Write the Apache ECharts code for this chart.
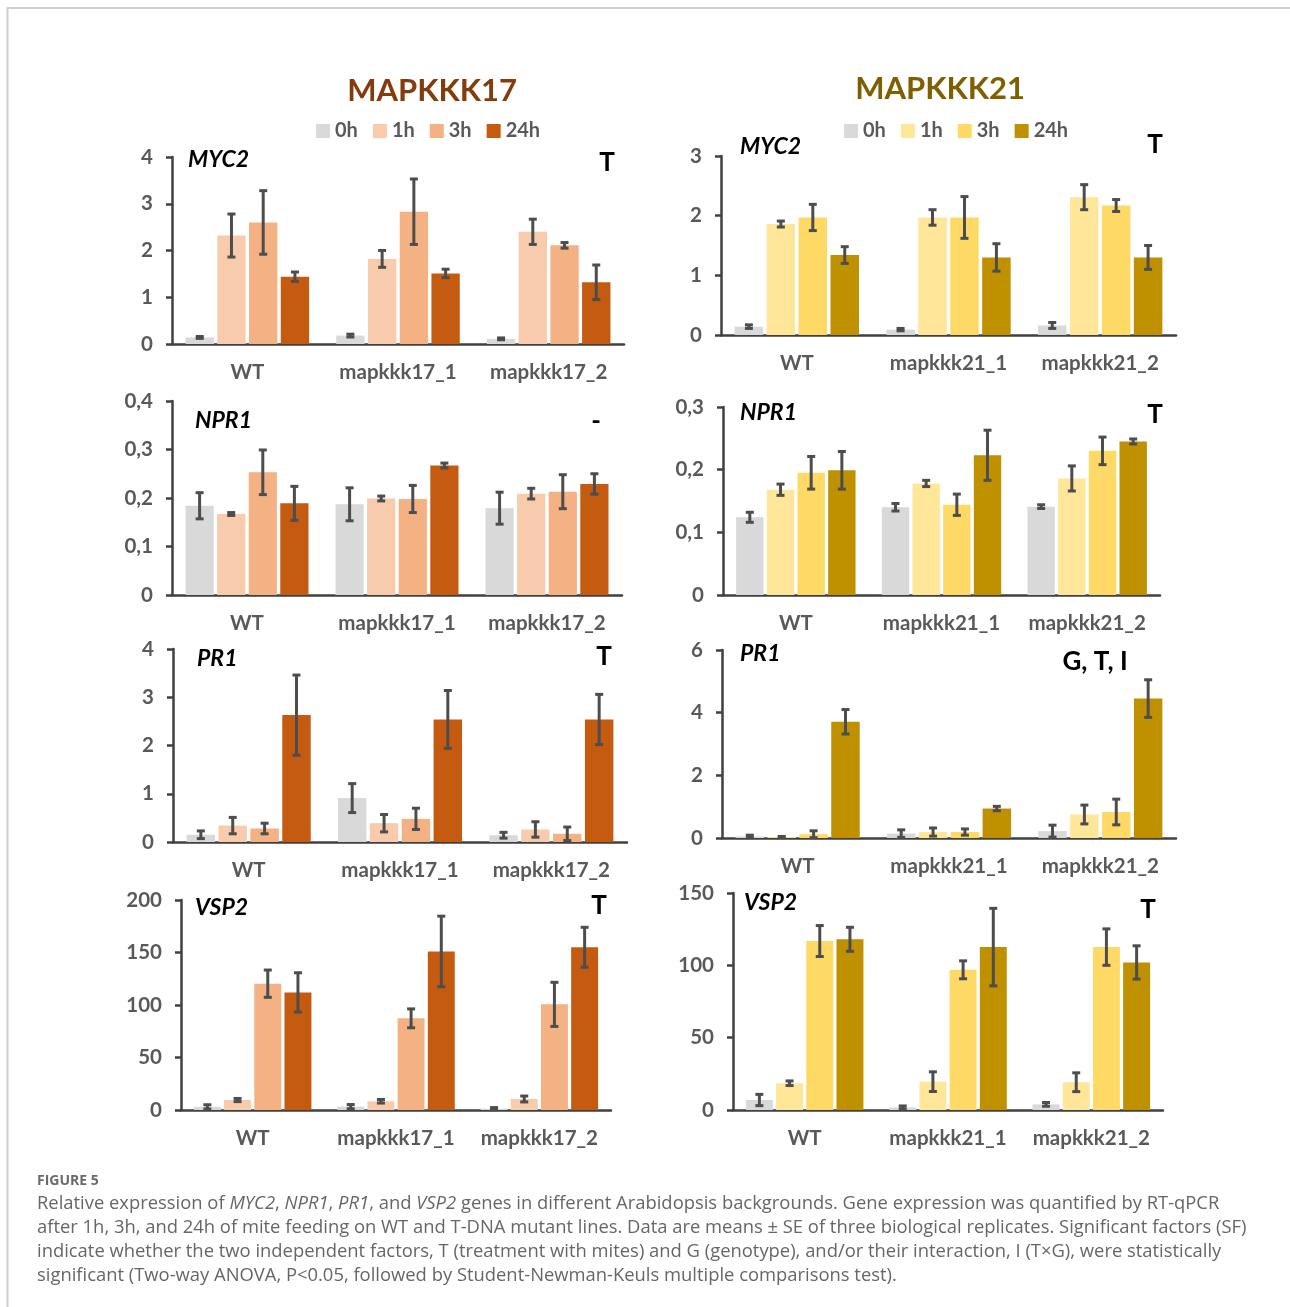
<!DOCTYPE html>
<html>
<head>
<meta charset="utf-8">
<script src="https://cdn.jsdelivr.net/npm/echarts@6/dist/echarts.min.js"></script>
<style>
  html, body { margin: 0; padding: 0; background: #fff; }
  #chart { width: 1290px; height: 1307px; }
</style>
</head>
<body>
<div id="chart"></div>
<script>
// Genotypes on the x axis of each column
const genotypesK17 = ['WT', 'mapkkk17_1', 'mapkkk17_2'];
const genotypesK21 = ['WT', 'mapkkk21_1', 'mapkkk21_2'];
// Time after mite infestation (one bar series per time point)
const timePoints = ['0h', '1h', '3h', '24h'];

// Relative expression: rows = time points, columns = genotypes
const myc2K17Mean = [[0.14, 0.18, 0.11], [2.32, 1.82, 2.40], [2.60, 2.83, 2.11], [1.44, 1.51, 1.32]];
const myc2K17Se   = [[0.02, 0.03, 0.02], [0.46, 0.18, 0.27], [0.68, 0.70, 0.06], [0.10, 0.09, 0.37]];
const myc2K21Mean = [[0.14, 0.09, 0.16], [1.86, 1.97, 2.31], [1.97, 1.97, 2.17], [1.34, 1.30, 1.30]];
const myc2K21Se   = [[0.03, 0.02, 0.05], [0.05, 0.13, 0.21], [0.22, 0.35, 0.10], [0.14, 0.23, 0.20]];

const npr1K17Mean = [[0.184, 0.187, 0.179], [0.167, 0.199, 0.209], [0.253, 0.198, 0.213], [0.189, 0.267, 0.229]];
const npr1K17Se   = [[0.027, 0.034, 0.033], [0.003, 0.005, 0.011], [0.046, 0.028, 0.035], [0.035, 0.005, 0.021]];
const npr1K21Mean = [[0.124, 0.140, 0.141], [0.168, 0.178, 0.186], [0.195, 0.144, 0.230], [0.199, 0.223, 0.245]];
const npr1K21Se   = [[0.008, 0.006, 0.003], [0.009, 0.005, 0.020], [0.026, 0.017, 0.022], [0.030, 0.040, 0.004]];

const pr1K17Mean = [[0.15, 0.91, 0.14], [0.34, 0.39, 0.26], [0.28, 0.48, 0.17], [2.63, 2.54, 2.54]];
const pr1K17Se   = [[0.08, 0.30, 0.06], [0.17, 0.18, 0.16], [0.11, 0.22, 0.14], [0.83, 0.60, 0.52]];
const pr1K21Mean = [[0.05, 0.14, 0.22], [0.03, 0.19, 0.75], [0.12, 0.19, 0.83], [3.71, 0.94, 4.45]];
const pr1K21Se   = [[0.04, 0.12, 0.19], [0.02, 0.13, 0.30], [0.11, 0.10, 0.41], [0.39, 0.07, 0.60]];

const vsp2K17Mean = [[3.0, 3.2, 1.3], [9.5, 8.3, 10.5], [120.3, 87.3, 100.6], [112.0, 151.0, 155.0]];
const vsp2K17Se   = [[2.0, 2.0, 1.0], [1.5, 1.7, 2.8], [13.0, 9.0, 21.0], [18.7, 33.6, 19.0]];
const vsp2K21Mean = [[6.9, 1.8, 3.9], [18.5, 19.6, 19.2], [116.8, 96.9, 112.6], [118.0, 112.6, 102.0]];
const vsp2K21Se   = [[3.9, 1.0, 1.3], [1.6, 6.8, 6.5], [10.7, 6.2, 12.6], [8.3, 26.8, 11.5]];

// Y axis ranges (max, tick step) and significant factors per panel
const yMax      = [4, 3, 0.4, 0.3, 4, 6, 200, 150];
const yStep     = [1, 1, 0.1, 0.1, 1, 2, 50, 50];
const geneNames = ['MYC2', 'MYC2', 'NPR1', 'NPR1', 'PR1', 'PR1', 'VSP2', 'VSP2'];
const sigFactors = ['T', 'T', '-', 'T', 'T', 'G, T, I', 'T', 'T'];

// ---- styling / layout ----
const FONT = 'Lato, "Open Sans", sans-serif';
const CAPTION_FONT = '"Open Sans", Lato, sans-serif';
const AXIS_COLOR = '#404040';
const LABEL_COLOR = '#595959';
const ERR_COLOR = '#4d4d4d';
const palettes = [
  ['#D9D9D9', '#F8CBAD', '#F4B183', '#C55A11'],  // MAPKKK17
  ['#D9D9D9', '#FFE699', '#FFD966', '#BF9000']   // MAPKKK21
];
const CAT_GAP = 0.18, BAR_GAP = 0.12;

// plot boxes: [left, top, right, bottom] in px
const boxes = [
  [172, 157, 624, 344], [721, 156, 1176, 335],
  [172, 401, 622, 595], [723, 407, 1160, 595],
  [173, 649, 627, 842], [722, 650, 1176, 838],
  [181, 900, 611, 1110], [733, 893, 1163, 1110]
];
// gene name anchor (left, middle) and significance anchor (center, middle)
const genePos = [[188, 160], [740, 147], [195, 421], [740, 413], [197, 659], [740, 654], [195, 908], [744, 903]];
const sigPos  = [[607, 163], [1155, 145], [596, 422], [1155, 415], [604, 657], [1095, 662], [599, 906], [1148, 910]];

const panelData = [
  [myc2K17Mean, myc2K17Se], [myc2K21Mean, myc2K21Se],
  [npr1K17Mean, npr1K17Se], [npr1K21Mean, npr1K21Se],
  [pr1K17Mean, pr1K17Se],   [pr1K21Mean, pr1K21Se],
  [vsp2K17Mean, vsp2K17Se], [vsp2K21Mean, vsp2K21Se]
];

function fmtTick(v) {
  return String(+v.toFixed(3)).replace('.', ',');
}

// Error bar: vertical whisker with caps, centered on the matching bar
function renderErrorBar(params, api) {
  const cat = api.value(0), k = api.value(1), mean = api.value(2), se = api.value(3);
  const band = api.size([1, 0])[0];
  const avail = band * (1 - CAT_GAP);
  const bw = avail / (4 + 3 * BAR_GAP);
  const cx = api.coord([cat, 0])[0] - avail / 2 + bw / 2 + k * bw * (1 + BAR_GAP);
  const yHi = api.coord([cat, mean + se])[1];
  const yLo = api.coord([cat, mean - se])[1];
  const cap = 4;
  const style = { stroke: ERR_COLOR, lineWidth: 3, fill: null };
  return {
    type: 'group',
    children: [
      { type: 'line', shape: { x1: cx, y1: yHi, x2: cx, y2: yLo }, style },
      { type: 'line', shape: { x1: cx - cap, y1: yHi, x2: cx + cap, y2: yHi }, style },
      { type: 'line', shape: { x1: cx - cap, y1: yLo, x2: cx + cap, y2: yLo }, style }
    ]
  };
}

const grids = [], xAxes = [], yAxes = [], series = [], graphics = [];

boxes.forEach((b, p) => {
  const col = p % 2;
  const cats = col === 0 ? genotypesK17 : genotypesK21;
  const [mean, se] = panelData[p];
  grids.push({ left: b[0], top: b[1], width: b[2] - b[0], height: b[3] - b[1], outerBoundsMode: 'none' });
  xAxes.push({
    type: 'category', gridIndex: p, data: cats,
    axisLine: { lineStyle: { color: AXIS_COLOR, width: 2.5 } },
    axisTick: { length: 7, lineStyle: { color: AXIS_COLOR, width: 2.5 } },
    axisLabel: { interval: 0, hideOverlap: false, fontSize: 20.5, fontWeight: 'bold', fontFamily: FONT, color: LABEL_COLOR, margin: 18 }
  });
  yAxes.push({
    type: 'value', gridIndex: p, min: 0, max: yMax[p], interval: yStep[p],
    axisLine: { show: true, lineStyle: { color: AXIS_COLOR, width: 2.5 } },
    axisTick: { show: true, length: 6, lineStyle: { color: AXIS_COLOR, width: 2.5 } },
    splitLine: { show: false },
    axisLabel: { fontSize: 20.5, fontWeight: 'bold', fontFamily: FONT, color: LABEL_COLOR, margin: 19, formatter: fmtTick }
  });
  const errData = [];
  timePoints.forEach((t, k) => {
    series.push({
      type: 'bar', name: t, xAxisIndex: p, yAxisIndex: p,
      data: mean[k], barCategoryGap: (CAT_GAP * 100) + '%', barGap: (BAR_GAP * 100) + '%',
      itemStyle: { color: palettes[col][k] }
    });
    mean[k].forEach((m, g) => errData.push([g, k, m, se[k][g]]));
  });
  series.push({
    type: 'custom', xAxisIndex: p, yAxisIndex: p, z: 10,
    renderItem: renderErrorBar, data: errData, encode: { x: 0, y: 2 }
  });
  graphics.push({
    type: 'text', x: genePos[p][0], y: genePos[p][1],
    style: { text: geneNames[p], font: 'italic bold 23px ' + FONT, fill: '#000', textVerticalAlign: 'middle' }
  });
  graphics.push({
    type: 'text', x: sigPos[p][0], y: sigPos[p][1],
    style: { text: sigFactors[p], font: 'bold 26px ' + FONT, fill: '#000', textAlign: 'center', textVerticalAlign: 'middle' }
  });
});

// Column headings
graphics.push({ type: 'text', x: 432, y: 91, style: { text: 'MAPKKK17', font: 'bold 31px ' + FONT, fill: '#843C0C', textAlign: 'center', textVerticalAlign: 'middle' } });
graphics.push({ type: 'text', x: 940, y: 89, style: { text: 'MAPKKK21', font: 'bold 31px ' + FONT, fill: '#7F6000', textAlign: 'center', textVerticalAlign: 'middle' } });

// Figure frame
graphics.push({ type: 'polyline', shape: { points: [[7.5, 1307], [7.5, 8], [1290, 8]] }, style: { stroke: '#cfcfcf', lineWidth: 2, fill: null } });

// Caption
const CAP_SIZE = 18.4;
const capFont = { fontFamily: CAPTION_FONT, fontSize: CAP_SIZE, fill: '#666' };
const capRich = { i: { fontFamily: CAPTION_FONT, fontSize: CAP_SIZE, fontStyle: 'italic', fill: '#666' } };
graphics.push({ type: 'text', x: 37, y: 1181, style: { text: 'FIGURE 5', fontFamily: CAPTION_FONT, fontSize: 14, fontWeight: 'bold', fill: '#6a6a6a', textVerticalAlign: 'middle' } });
const captionLines = [
  'Relative expression of {i|MYC2}, {i|NPR1}, {i|PR1}, and {i|VSP2} genes in different Arabidopsis backgrounds. Gene expression was quantified by RT-qPCR',
  'after 1h, 3h, and 24h of mite feeding on WT and T-DNA mutant lines. Data are means ± SE of three biological replicates. Significant factors (SF)',
  'indicate whether the two independent factors, T (treatment with mites) and G (genotype), and/or their interaction, I (T×G), were statistically',
  'significant (Two-way ANOVA, P<0.05, followed by Student-Newman-Keuls multiple comparisons test).'
];
captionLines.forEach((line, i) => {
  graphics.push({ type: 'text', x: 37, y: 1204 + i * 24, style: Object.assign({ text: line, rich: capRich, textVerticalAlign: 'middle' }, capFont) });
});

const legendBase = {
  icon: 'rect', itemWidth: 14, itemHeight: 14, itemGap: 15, padding: 0, selectedMode: false,
  textStyle: { fontSize: 20, fontWeight: 'bold', fontFamily: FONT, color: LABEL_COLOR }
};

const chart = echarts.init(document.getElementById('chart'), null, { renderer: 'canvas' });
chart.setOption({
  animation: false,
  backgroundColor: '#fff',
  legend: [
    Object.assign({ left: 316, top: 121, data: timePoints.map((t, k) => ({ name: t, itemStyle: { color: palettes[0][k] } })) }, legendBase),
    Object.assign({ left: 844, top: 121, data: timePoints.map((t, k) => ({ name: t, itemStyle: { color: palettes[1][k] } })) }, legendBase)
  ],
  grid: grids,
  xAxis: xAxes,
  yAxis: yAxes,
  series: series,
  graphic: graphics
});
</script>
</body>
</html>
